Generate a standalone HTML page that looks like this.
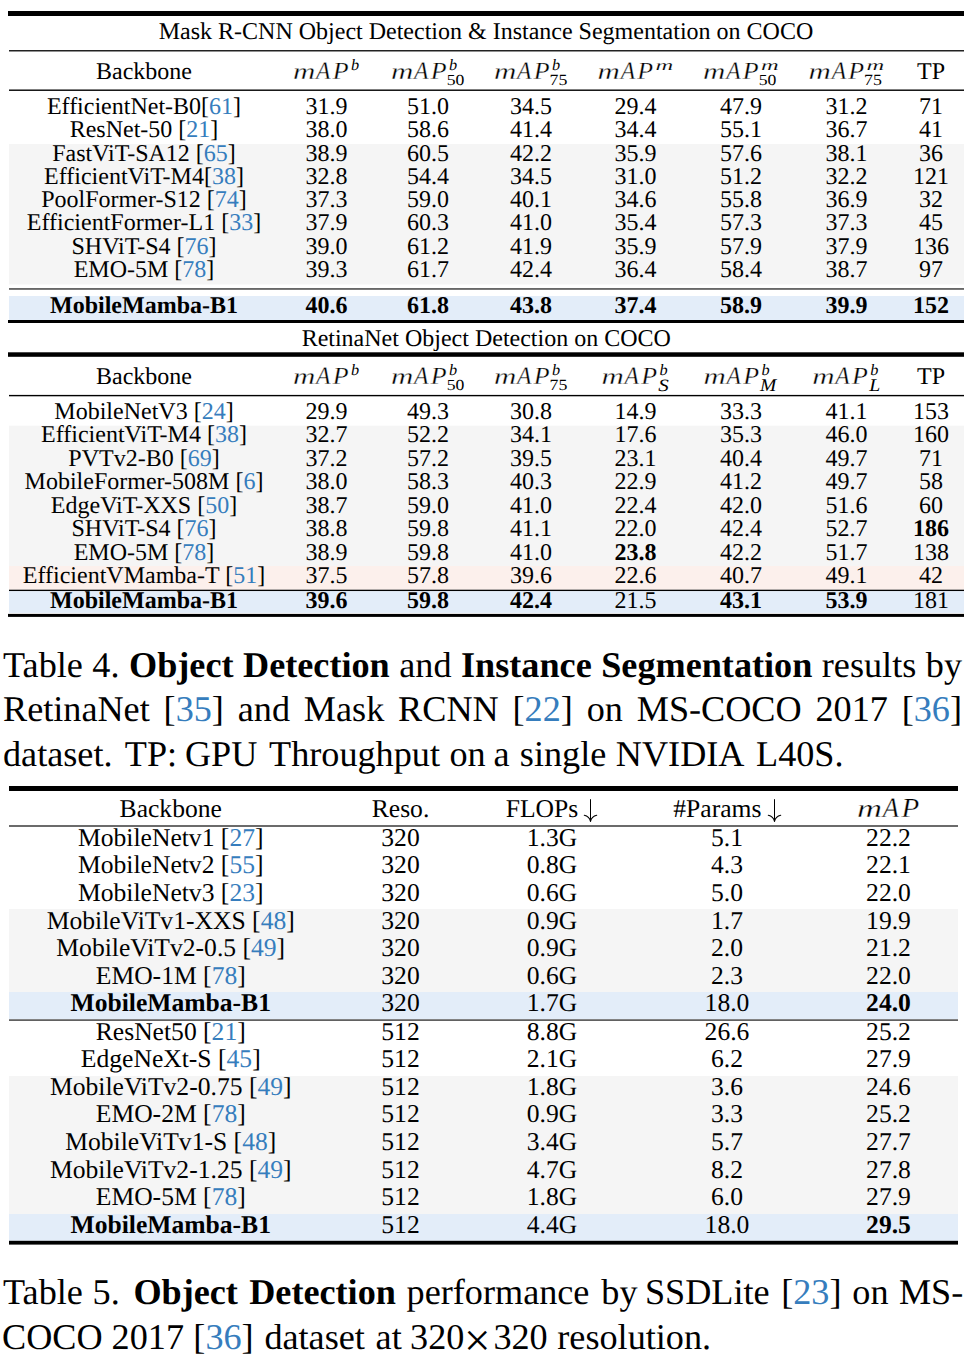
<!DOCTYPE html>
<html><head><meta charset="utf-8"><title>Table</title>
<style>
html,body{margin:0;padding:0;background:#fff;text-rendering:geometricPrecision;}
body{width:972px;height:1361px;position:relative;overflow:hidden;font-family:"Liberation Serif",serif;color:#000;}
.cap{position:absolute;font-size:36.2px;line-height:44px;white-space:nowrap;}
</style></head><body>
<svg width="972" height="1361" viewBox="0 0 972 1361" style="position:absolute;left:0;top:0" font-family="Liberation Serif" fill="#000" text-rendering="geometricPrecision"><rect x="8" y="11" width="956" height="5" fill="#000"/><text x="486" y="39.1" font-size="24.0" text-anchor="middle" xml:space="preserve">Mask R-CNN Object Detection &amp; Instance Segmentation on COCO</text><rect x="9" y="50" width="955" height="1.5" fill="#222"/><text x="144" y="79.0" font-size="24.0" text-anchor="middle" xml:space="preserve">Backbone</text><g transform="translate(293.90,79.0) scale(1.0000)"><text transform="translate(-0.84,0.00) scale(1.346,1)" font-size="22.98" font-style="italic" stroke="#fff" stroke-width="0.3">m</text><text transform="translate(22.18,0.25) scale(0.948,1)" font-size="24.92" font-style="italic" stroke="#fff" stroke-width="0.3">A</text><text transform="translate(38.80,0.00) scale(1.053,1)" font-size="24.62" font-style="italic" stroke="#fff" stroke-width="0.3">P</text><text transform="translate(57.15,-9.06) scale(1.027,1)" font-size="15.86" font-style="italic" stroke="#fff" stroke-width="0.0">b</text></g><g transform="translate(391.90,79.0) scale(1.0000)"><text transform="translate(-0.84,0.00) scale(1.346,1)" font-size="22.98" font-style="italic" stroke="#fff" stroke-width="0.3">m</text><text transform="translate(22.18,0.25) scale(0.948,1)" font-size="24.92" font-style="italic" stroke="#fff" stroke-width="0.3">A</text><text transform="translate(38.80,0.00) scale(1.053,1)" font-size="24.62" font-style="italic" stroke="#fff" stroke-width="0.3">P</text><text transform="translate(57.15,-9.06) scale(1.027,1)" font-size="15.86" font-style="italic" stroke="#fff" stroke-width="0.0">b</text><text transform="translate(54.84,6.19) scale(1.149,1)" font-size="15.37" stroke="#fff" stroke-width="0.0">50</text></g><g transform="translate(494.90,79.0) scale(1.0000)"><text transform="translate(-0.84,0.00) scale(1.346,1)" font-size="22.98" font-style="italic" stroke="#fff" stroke-width="0.3">m</text><text transform="translate(22.18,0.25) scale(0.948,1)" font-size="24.92" font-style="italic" stroke="#fff" stroke-width="0.3">A</text><text transform="translate(38.80,0.00) scale(1.053,1)" font-size="24.62" font-style="italic" stroke="#fff" stroke-width="0.3">P</text><text transform="translate(57.15,-9.06) scale(1.027,1)" font-size="15.86" font-style="italic" stroke="#fff" stroke-width="0.0">b</text><text transform="translate(54.65,6.34) scale(1.145,1)" font-size="15.61" stroke="#fff" stroke-width="0.0">75</text></g><g transform="translate(598.45,79.0) scale(1.0000)"><text transform="translate(-0.84,0.00) scale(1.346,1)" font-size="22.98" font-style="italic" stroke="#fff" stroke-width="0.3">m</text><text transform="translate(22.18,0.25) scale(0.948,1)" font-size="24.92" font-style="italic" stroke="#fff" stroke-width="0.3">A</text><text transform="translate(38.80,0.00) scale(1.053,1)" font-size="24.62" font-style="italic" stroke="#fff" stroke-width="0.3">P</text><text transform="translate(57.02,-8.70) scale(1.647,1)" font-size="14.89" font-style="italic" stroke="#fff" stroke-width="0.12">m</text></g><g transform="translate(703.95,79.0) scale(1.0000)"><text transform="translate(-0.84,0.00) scale(1.346,1)" font-size="22.98" font-style="italic" stroke="#fff" stroke-width="0.3">m</text><text transform="translate(22.18,0.25) scale(0.948,1)" font-size="24.92" font-style="italic" stroke="#fff" stroke-width="0.3">A</text><text transform="translate(38.80,0.00) scale(1.053,1)" font-size="24.62" font-style="italic" stroke="#fff" stroke-width="0.3">P</text><text transform="translate(57.02,-8.70) scale(1.647,1)" font-size="14.89" font-style="italic" stroke="#fff" stroke-width="0.12">m</text><text transform="translate(54.84,6.19) scale(1.149,1)" font-size="15.37" stroke="#fff" stroke-width="0.0">50</text></g><g transform="translate(809.45,79.0) scale(1.0000)"><text transform="translate(-0.84,0.00) scale(1.346,1)" font-size="22.98" font-style="italic" stroke="#fff" stroke-width="0.3">m</text><text transform="translate(22.18,0.25) scale(0.948,1)" font-size="24.92" font-style="italic" stroke="#fff" stroke-width="0.3">A</text><text transform="translate(38.80,0.00) scale(1.053,1)" font-size="24.62" font-style="italic" stroke="#fff" stroke-width="0.3">P</text><text transform="translate(57.02,-8.70) scale(1.647,1)" font-size="14.89" font-style="italic" stroke="#fff" stroke-width="0.12">m</text><text transform="translate(54.65,6.34) scale(1.145,1)" font-size="15.61" stroke="#fff" stroke-width="0.0">75</text></g><text x="931" y="79.0" font-size="24.0" text-anchor="middle" xml:space="preserve">TP</text><rect x="9" y="89.5" width="955" height="1.4" fill="#000"/><rect x="9" y="144" width="955" height="140.5" fill="#f5f5f5"/><text x="144" y="114.00" font-size="24.0" text-anchor="middle" xml:space="preserve">EfficientNet-B0[<tspan fill="#367dbd">61</tspan>]</text><text x="326.5" y="114.00" font-size="24.0" text-anchor="middle" xml:space="preserve">31.9</text><text x="428" y="114.00" font-size="24.0" text-anchor="middle" xml:space="preserve">51.0</text><text x="531" y="114.00" font-size="24.0" text-anchor="middle" xml:space="preserve">34.5</text><text x="635.5" y="114.00" font-size="24.0" text-anchor="middle" xml:space="preserve">29.4</text><text x="741" y="114.00" font-size="24.0" text-anchor="middle" xml:space="preserve">47.9</text><text x="846.5" y="114.00" font-size="24.0" text-anchor="middle" xml:space="preserve">31.2</text><text x="931" y="114.00" font-size="24.0" text-anchor="middle" xml:space="preserve">71</text><text x="144" y="137.26" font-size="24.0" text-anchor="middle" xml:space="preserve">ResNet-50 [<tspan fill="#367dbd">21</tspan>]</text><text x="326.5" y="137.26" font-size="24.0" text-anchor="middle" xml:space="preserve">38.0</text><text x="428" y="137.26" font-size="24.0" text-anchor="middle" xml:space="preserve">58.6</text><text x="531" y="137.26" font-size="24.0" text-anchor="middle" xml:space="preserve">41.4</text><text x="635.5" y="137.26" font-size="24.0" text-anchor="middle" xml:space="preserve">34.4</text><text x="741" y="137.26" font-size="24.0" text-anchor="middle" xml:space="preserve">55.1</text><text x="846.5" y="137.26" font-size="24.0" text-anchor="middle" xml:space="preserve">36.7</text><text x="931" y="137.26" font-size="24.0" text-anchor="middle" xml:space="preserve">41</text><text x="144" y="160.52" font-size="24.0" text-anchor="middle" xml:space="preserve">FastViT-SA12 [<tspan fill="#367dbd">65</tspan>]</text><text x="326.5" y="160.52" font-size="24.0" text-anchor="middle" xml:space="preserve">38.9</text><text x="428" y="160.52" font-size="24.0" text-anchor="middle" xml:space="preserve">60.5</text><text x="531" y="160.52" font-size="24.0" text-anchor="middle" xml:space="preserve">42.2</text><text x="635.5" y="160.52" font-size="24.0" text-anchor="middle" xml:space="preserve">35.9</text><text x="741" y="160.52" font-size="24.0" text-anchor="middle" xml:space="preserve">57.6</text><text x="846.5" y="160.52" font-size="24.0" text-anchor="middle" xml:space="preserve">38.1</text><text x="931" y="160.52" font-size="24.0" text-anchor="middle" xml:space="preserve">36</text><text x="144" y="183.78" font-size="24.0" text-anchor="middle" xml:space="preserve">EfficientViT-M4[<tspan fill="#367dbd">38</tspan>]</text><text x="326.5" y="183.78" font-size="24.0" text-anchor="middle" xml:space="preserve">32.8</text><text x="428" y="183.78" font-size="24.0" text-anchor="middle" xml:space="preserve">54.4</text><text x="531" y="183.78" font-size="24.0" text-anchor="middle" xml:space="preserve">34.5</text><text x="635.5" y="183.78" font-size="24.0" text-anchor="middle" xml:space="preserve">31.0</text><text x="741" y="183.78" font-size="24.0" text-anchor="middle" xml:space="preserve">51.2</text><text x="846.5" y="183.78" font-size="24.0" text-anchor="middle" xml:space="preserve">32.2</text><text x="931" y="183.78" font-size="24.0" text-anchor="middle" xml:space="preserve">121</text><text x="144" y="207.04" font-size="24.0" text-anchor="middle" xml:space="preserve">PoolFormer-S12 [<tspan fill="#367dbd">74</tspan>]</text><text x="326.5" y="207.04" font-size="24.0" text-anchor="middle" xml:space="preserve">37.3</text><text x="428" y="207.04" font-size="24.0" text-anchor="middle" xml:space="preserve">59.0</text><text x="531" y="207.04" font-size="24.0" text-anchor="middle" xml:space="preserve">40.1</text><text x="635.5" y="207.04" font-size="24.0" text-anchor="middle" xml:space="preserve">34.6</text><text x="741" y="207.04" font-size="24.0" text-anchor="middle" xml:space="preserve">55.8</text><text x="846.5" y="207.04" font-size="24.0" text-anchor="middle" xml:space="preserve">36.9</text><text x="931" y="207.04" font-size="24.0" text-anchor="middle" xml:space="preserve">32</text><text x="144" y="230.30" font-size="24.0" text-anchor="middle" xml:space="preserve">EfficientFormer-L1 [<tspan fill="#367dbd">33</tspan>]</text><text x="326.5" y="230.30" font-size="24.0" text-anchor="middle" xml:space="preserve">37.9</text><text x="428" y="230.30" font-size="24.0" text-anchor="middle" xml:space="preserve">60.3</text><text x="531" y="230.30" font-size="24.0" text-anchor="middle" xml:space="preserve">41.0</text><text x="635.5" y="230.30" font-size="24.0" text-anchor="middle" xml:space="preserve">35.4</text><text x="741" y="230.30" font-size="24.0" text-anchor="middle" xml:space="preserve">57.3</text><text x="846.5" y="230.30" font-size="24.0" text-anchor="middle" xml:space="preserve">37.3</text><text x="931" y="230.30" font-size="24.0" text-anchor="middle" xml:space="preserve">45</text><text x="144" y="253.56" font-size="24.0" text-anchor="middle" xml:space="preserve">SHViT-S4 [<tspan fill="#367dbd">76</tspan>]</text><text x="326.5" y="253.56" font-size="24.0" text-anchor="middle" xml:space="preserve">39.0</text><text x="428" y="253.56" font-size="24.0" text-anchor="middle" xml:space="preserve">61.2</text><text x="531" y="253.56" font-size="24.0" text-anchor="middle" xml:space="preserve">41.9</text><text x="635.5" y="253.56" font-size="24.0" text-anchor="middle" xml:space="preserve">35.9</text><text x="741" y="253.56" font-size="24.0" text-anchor="middle" xml:space="preserve">57.9</text><text x="846.5" y="253.56" font-size="24.0" text-anchor="middle" xml:space="preserve">37.9</text><text x="931" y="253.56" font-size="24.0" text-anchor="middle" xml:space="preserve">136</text><text x="144" y="276.82" font-size="24.0" text-anchor="middle" xml:space="preserve">EMO-5M [<tspan fill="#367dbd">78</tspan>]</text><text x="326.5" y="276.82" font-size="24.0" text-anchor="middle" xml:space="preserve">39.3</text><text x="428" y="276.82" font-size="24.0" text-anchor="middle" xml:space="preserve">61.7</text><text x="531" y="276.82" font-size="24.0" text-anchor="middle" xml:space="preserve">42.4</text><text x="635.5" y="276.82" font-size="24.0" text-anchor="middle" xml:space="preserve">36.4</text><text x="741" y="276.82" font-size="24.0" text-anchor="middle" xml:space="preserve">58.4</text><text x="846.5" y="276.82" font-size="24.0" text-anchor="middle" xml:space="preserve">38.7</text><text x="931" y="276.82" font-size="24.0" text-anchor="middle" xml:space="preserve">97</text><rect x="9" y="288.2" width="955" height="1.5" fill="#444"/><rect x="9" y="296" width="955" height="24" fill="#e3edf9"/><text x="144" y="313.1" font-size="24.0" text-anchor="middle" font-weight="bold" xml:space="preserve">MobileMamba-B1</text><text x="326.5" y="313.1" font-size="24.0" text-anchor="middle" font-weight="bold" xml:space="preserve">40.6</text><text x="428" y="313.1" font-size="24.0" text-anchor="middle" font-weight="bold" xml:space="preserve">61.8</text><text x="531" y="313.1" font-size="24.0" text-anchor="middle" font-weight="bold" xml:space="preserve">43.8</text><text x="635.5" y="313.1" font-size="24.0" text-anchor="middle" font-weight="bold" xml:space="preserve">37.4</text><text x="741" y="313.1" font-size="24.0" text-anchor="middle" font-weight="bold" xml:space="preserve">58.9</text><text x="846.5" y="313.1" font-size="24.0" text-anchor="middle" font-weight="bold" xml:space="preserve">39.9</text><text x="931" y="313.1" font-size="24.0" text-anchor="middle" font-weight="bold" xml:space="preserve">152</text><rect x="8" y="320" width="956" height="3" fill="#000"/><text x="486.25" y="345.8" font-size="24.0" text-anchor="middle" xml:space="preserve">RetinaNet Object Detection on COCO</text><rect x="8" y="352.3" width="956" height="4.5" fill="#000"/><text x="144" y="384.0" font-size="24.0" text-anchor="middle" xml:space="preserve">Backbone</text><g transform="translate(293.90,384.0) scale(1.0000)"><text transform="translate(-0.84,0.00) scale(1.346,1)" font-size="22.98" font-style="italic" stroke="#fff" stroke-width="0.3">m</text><text transform="translate(22.18,0.25) scale(0.948,1)" font-size="24.92" font-style="italic" stroke="#fff" stroke-width="0.3">A</text><text transform="translate(38.80,0.00) scale(1.053,1)" font-size="24.62" font-style="italic" stroke="#fff" stroke-width="0.3">P</text><text transform="translate(57.15,-9.06) scale(1.027,1)" font-size="15.86" font-style="italic" stroke="#fff" stroke-width="0.0">b</text></g><g transform="translate(391.90,384.0) scale(1.0000)"><text transform="translate(-0.84,0.00) scale(1.346,1)" font-size="22.98" font-style="italic" stroke="#fff" stroke-width="0.3">m</text><text transform="translate(22.18,0.25) scale(0.948,1)" font-size="24.92" font-style="italic" stroke="#fff" stroke-width="0.3">A</text><text transform="translate(38.80,0.00) scale(1.053,1)" font-size="24.62" font-style="italic" stroke="#fff" stroke-width="0.3">P</text><text transform="translate(57.15,-9.06) scale(1.027,1)" font-size="15.86" font-style="italic" stroke="#fff" stroke-width="0.0">b</text><text transform="translate(54.84,6.19) scale(1.149,1)" font-size="15.37" stroke="#fff" stroke-width="0.0">50</text></g><g transform="translate(494.90,384.0) scale(1.0000)"><text transform="translate(-0.84,0.00) scale(1.346,1)" font-size="22.98" font-style="italic" stroke="#fff" stroke-width="0.3">m</text><text transform="translate(22.18,0.25) scale(0.948,1)" font-size="24.92" font-style="italic" stroke="#fff" stroke-width="0.3">A</text><text transform="translate(38.80,0.00) scale(1.053,1)" font-size="24.62" font-style="italic" stroke="#fff" stroke-width="0.3">P</text><text transform="translate(57.15,-9.06) scale(1.027,1)" font-size="15.86" font-style="italic" stroke="#fff" stroke-width="0.0">b</text><text transform="translate(54.65,6.34) scale(1.145,1)" font-size="15.61" stroke="#fff" stroke-width="0.0">75</text></g><g transform="translate(602.35,384.0) scale(1.0000)"><text transform="translate(-0.84,0.00) scale(1.346,1)" font-size="22.98" font-style="italic" stroke="#fff" stroke-width="0.3">m</text><text transform="translate(22.18,0.25) scale(0.948,1)" font-size="24.92" font-style="italic" stroke="#fff" stroke-width="0.3">A</text><text transform="translate(38.80,0.00) scale(1.053,1)" font-size="24.62" font-style="italic" stroke="#fff" stroke-width="0.3">P</text><text transform="translate(57.15,-9.06) scale(1.027,1)" font-size="15.86" font-style="italic" stroke="#fff" stroke-width="0.0">b</text><text transform="translate(55.79,7.05) scale(1.217,1)" font-size="17.31" font-style="italic" stroke="#fff" stroke-width="0.0">S</text></g><g transform="translate(704.35,384.0) scale(1.0000)"><text transform="translate(-0.84,0.00) scale(1.346,1)" font-size="22.98" font-style="italic" stroke="#fff" stroke-width="0.3">m</text><text transform="translate(22.18,0.25) scale(0.948,1)" font-size="24.92" font-style="italic" stroke="#fff" stroke-width="0.3">A</text><text transform="translate(38.80,0.00) scale(1.053,1)" font-size="24.62" font-style="italic" stroke="#fff" stroke-width="0.3">P</text><text transform="translate(57.15,-9.06) scale(1.027,1)" font-size="15.86" font-style="italic" stroke="#fff" stroke-width="0.0">b</text><text transform="translate(55.70,7.40) scale(1.096,1)" font-size="17.85" font-style="italic" stroke="#fff" stroke-width="0.0">M</text></g><g transform="translate(813.15,384.0) scale(1.0000)"><text transform="translate(-0.84,0.00) scale(1.346,1)" font-size="22.98" font-style="italic" stroke="#fff" stroke-width="0.3">m</text><text transform="translate(22.18,0.25) scale(0.948,1)" font-size="24.92" font-style="italic" stroke="#fff" stroke-width="0.3">A</text><text transform="translate(38.80,0.00) scale(1.053,1)" font-size="24.62" font-style="italic" stroke="#fff" stroke-width="0.3">P</text><text transform="translate(57.15,-9.06) scale(1.027,1)" font-size="15.86" font-style="italic" stroke="#fff" stroke-width="0.0">b</text><text transform="translate(56.20,7.40) scale(1.110,1)" font-size="17.85" font-style="italic" stroke="#fff" stroke-width="0.0">L</text></g><text x="931" y="384.0" font-size="24.0" text-anchor="middle" xml:space="preserve">TP</text><rect x="9" y="394.9" width="955" height="1.4" fill="#000"/><rect x="9" y="425.7" width="955" height="140.3" fill="#f5f5f5"/><rect x="9" y="566" width="955" height="23.700000000000045" fill="#fcf0ec"/><text x="144" y="418.80" font-size="24.0" text-anchor="middle" xml:space="preserve">MobileNetV3 [<tspan fill="#367dbd">24</tspan>]</text><text x="326.5" y="418.80" font-size="24.0" text-anchor="middle" xml:space="preserve">29.9</text><text x="428" y="418.80" font-size="24.0" text-anchor="middle" xml:space="preserve">49.3</text><text x="531" y="418.80" font-size="24.0" text-anchor="middle" xml:space="preserve">30.8</text><text x="635.5" y="418.80" font-size="24.0" text-anchor="middle" xml:space="preserve">14.9</text><text x="741" y="418.80" font-size="24.0" text-anchor="middle" xml:space="preserve">33.3</text><text x="846.5" y="418.80" font-size="24.0" text-anchor="middle" xml:space="preserve">41.1</text><text x="931" y="418.80" font-size="24.0" text-anchor="middle" xml:space="preserve">153</text><text x="144" y="442.27" font-size="24.0" text-anchor="middle" xml:space="preserve">EfficientViT-M4 [<tspan fill="#367dbd">38</tspan>]</text><text x="326.5" y="442.27" font-size="24.0" text-anchor="middle" xml:space="preserve">32.7</text><text x="428" y="442.27" font-size="24.0" text-anchor="middle" xml:space="preserve">52.2</text><text x="531" y="442.27" font-size="24.0" text-anchor="middle" xml:space="preserve">34.1</text><text x="635.5" y="442.27" font-size="24.0" text-anchor="middle" xml:space="preserve">17.6</text><text x="741" y="442.27" font-size="24.0" text-anchor="middle" xml:space="preserve">35.3</text><text x="846.5" y="442.27" font-size="24.0" text-anchor="middle" xml:space="preserve">46.0</text><text x="931" y="442.27" font-size="24.0" text-anchor="middle" xml:space="preserve">160</text><text x="144" y="465.74" font-size="24.0" text-anchor="middle" xml:space="preserve">PVTv2-B0 [<tspan fill="#367dbd">69</tspan>]</text><text x="326.5" y="465.74" font-size="24.0" text-anchor="middle" xml:space="preserve">37.2</text><text x="428" y="465.74" font-size="24.0" text-anchor="middle" xml:space="preserve">57.2</text><text x="531" y="465.74" font-size="24.0" text-anchor="middle" xml:space="preserve">39.5</text><text x="635.5" y="465.74" font-size="24.0" text-anchor="middle" xml:space="preserve">23.1</text><text x="741" y="465.74" font-size="24.0" text-anchor="middle" xml:space="preserve">40.4</text><text x="846.5" y="465.74" font-size="24.0" text-anchor="middle" xml:space="preserve">49.7</text><text x="931" y="465.74" font-size="24.0" text-anchor="middle" xml:space="preserve">71</text><text x="144" y="489.21" font-size="24.0" text-anchor="middle" xml:space="preserve">MobileFormer-508M [<tspan fill="#367dbd">6</tspan>]</text><text x="326.5" y="489.21" font-size="24.0" text-anchor="middle" xml:space="preserve">38.0</text><text x="428" y="489.21" font-size="24.0" text-anchor="middle" xml:space="preserve">58.3</text><text x="531" y="489.21" font-size="24.0" text-anchor="middle" xml:space="preserve">40.3</text><text x="635.5" y="489.21" font-size="24.0" text-anchor="middle" xml:space="preserve">22.9</text><text x="741" y="489.21" font-size="24.0" text-anchor="middle" xml:space="preserve">41.2</text><text x="846.5" y="489.21" font-size="24.0" text-anchor="middle" xml:space="preserve">49.7</text><text x="931" y="489.21" font-size="24.0" text-anchor="middle" xml:space="preserve">58</text><text x="144" y="512.68" font-size="24.0" text-anchor="middle" xml:space="preserve">EdgeViT-XXS [<tspan fill="#367dbd">50</tspan>]</text><text x="326.5" y="512.68" font-size="24.0" text-anchor="middle" xml:space="preserve">38.7</text><text x="428" y="512.68" font-size="24.0" text-anchor="middle" xml:space="preserve">59.0</text><text x="531" y="512.68" font-size="24.0" text-anchor="middle" xml:space="preserve">41.0</text><text x="635.5" y="512.68" font-size="24.0" text-anchor="middle" xml:space="preserve">22.4</text><text x="741" y="512.68" font-size="24.0" text-anchor="middle" xml:space="preserve">42.0</text><text x="846.5" y="512.68" font-size="24.0" text-anchor="middle" xml:space="preserve">51.6</text><text x="931" y="512.68" font-size="24.0" text-anchor="middle" xml:space="preserve">60</text><text x="144" y="536.15" font-size="24.0" text-anchor="middle" xml:space="preserve">SHViT-S4 [<tspan fill="#367dbd">76</tspan>]</text><text x="326.5" y="536.15" font-size="24.0" text-anchor="middle" xml:space="preserve">38.8</text><text x="428" y="536.15" font-size="24.0" text-anchor="middle" xml:space="preserve">59.8</text><text x="531" y="536.15" font-size="24.0" text-anchor="middle" xml:space="preserve">41.1</text><text x="635.5" y="536.15" font-size="24.0" text-anchor="middle" xml:space="preserve">22.0</text><text x="741" y="536.15" font-size="24.0" text-anchor="middle" xml:space="preserve">42.4</text><text x="846.5" y="536.15" font-size="24.0" text-anchor="middle" xml:space="preserve">52.7</text><text x="931" y="536.15" font-size="24.0" text-anchor="middle" font-weight="bold" xml:space="preserve">186</text><text x="144" y="559.62" font-size="24.0" text-anchor="middle" xml:space="preserve">EMO-5M [<tspan fill="#367dbd">78</tspan>]</text><text x="326.5" y="559.62" font-size="24.0" text-anchor="middle" xml:space="preserve">38.9</text><text x="428" y="559.62" font-size="24.0" text-anchor="middle" xml:space="preserve">59.8</text><text x="531" y="559.62" font-size="24.0" text-anchor="middle" xml:space="preserve">41.0</text><text x="635.5" y="559.62" font-size="24.0" text-anchor="middle" font-weight="bold" xml:space="preserve">23.8</text><text x="741" y="559.62" font-size="24.0" text-anchor="middle" xml:space="preserve">42.2</text><text x="846.5" y="559.62" font-size="24.0" text-anchor="middle" xml:space="preserve">51.7</text><text x="931" y="559.62" font-size="24.0" text-anchor="middle" xml:space="preserve">138</text><text x="144" y="583.09" font-size="24.0" text-anchor="middle" xml:space="preserve">EfficientVMamba-T [<tspan fill="#367dbd">51</tspan>]</text><text x="326.5" y="583.09" font-size="24.0" text-anchor="middle" xml:space="preserve">37.5</text><text x="428" y="583.09" font-size="24.0" text-anchor="middle" xml:space="preserve">57.8</text><text x="531" y="583.09" font-size="24.0" text-anchor="middle" xml:space="preserve">39.6</text><text x="635.5" y="583.09" font-size="24.0" text-anchor="middle" xml:space="preserve">22.6</text><text x="741" y="583.09" font-size="24.0" text-anchor="middle" xml:space="preserve">40.7</text><text x="846.5" y="583.09" font-size="24.0" text-anchor="middle" xml:space="preserve">49.1</text><text x="931" y="583.09" font-size="24.0" text-anchor="middle" xml:space="preserve">42</text><rect x="9" y="589.7" width="955" height="1.5" fill="#000"/><rect x="9" y="591.2" width="955" height="21.699999999999932" fill="#e3edf9"/><text x="144" y="607.9" font-size="24.0" text-anchor="middle" font-weight="bold" xml:space="preserve">MobileMamba-B1</text><text x="326.5" y="607.9" font-size="24.0" text-anchor="middle" font-weight="bold" xml:space="preserve">39.6</text><text x="428" y="607.9" font-size="24.0" text-anchor="middle" font-weight="bold" xml:space="preserve">59.8</text><text x="531" y="607.9" font-size="24.0" text-anchor="middle" font-weight="bold" xml:space="preserve">42.4</text><text x="635.5" y="607.9" font-size="24.0" text-anchor="middle" xml:space="preserve">21.5</text><text x="741" y="607.9" font-size="24.0" text-anchor="middle" font-weight="bold" xml:space="preserve">43.1</text><text x="846.5" y="607.9" font-size="24.0" text-anchor="middle" font-weight="bold" xml:space="preserve">53.9</text><text x="931" y="607.9" font-size="24.0" text-anchor="middle" xml:space="preserve">181</text><rect x="8" y="613.9" width="956" height="3.0" fill="#000"/><rect x="9" y="786" width="949" height="5" fill="#000"/><text x="170.75" y="816.8" font-size="25.6" text-anchor="middle" xml:space="preserve">Backbone</text><text x="400.5" y="816.8" font-size="25.6" text-anchor="middle" xml:space="preserve">Reso.</text><text x="505.7" y="816.8" font-size="25.6" text-anchor="start" xml:space="preserve">FLOPs</text><path d="M590.5,799.2 L590.5,819.9" stroke="#000" stroke-width="1.05" fill="none"/><path d="M584.3,815.1999999999999 Q589.3,816.1999999999999 590.5,821.4 M596.7,815.1999999999999 Q591.7,816.1999999999999 590.5,821.4" stroke="#000" stroke-width="1.1" fill="none" stroke-linecap="round"/><text x="673.3" y="816.8" font-size="25.6" text-anchor="start" xml:space="preserve">#Params</text><path d="M774.5,799.2 L774.5,819.9" stroke="#000" stroke-width="1.05" fill="none"/><path d="M768.3,815.1999999999999 Q773.3,816.1999999999999 774.5,821.4 M780.7,815.1999999999999 Q775.7,816.1999999999999 774.5,821.4" stroke="#000" stroke-width="1.1" fill="none" stroke-linecap="round"/><g transform="translate(857.98,817.2) scale(1.1200)"><text transform="translate(-0.84,0.00) scale(1.346,1)" font-size="22.98" font-style="italic" stroke="#fff" stroke-width="0.3">m</text><text transform="translate(22.18,0.25) scale(0.948,1)" font-size="24.92" font-style="italic" stroke="#fff" stroke-width="0.3">A</text><text transform="translate(38.80,0.00) scale(1.053,1)" font-size="24.62" font-style="italic" stroke="#fff" stroke-width="0.3">P</text></g><rect x="9" y="825" width="949" height="2" fill="#6b6b6b"/><rect x="9" y="909" width="949" height="83" fill="#f5f5f5"/><rect x="9" y="992" width="949" height="27.200000000000045" fill="#e3edf9"/><text x="170.75" y="845.90" font-size="25.6" text-anchor="middle" xml:space="preserve">MobileNetv1 [<tspan fill="#367dbd">27</tspan>]</text><text x="400.5" y="845.90" font-size="25.6" text-anchor="middle" xml:space="preserve">320</text><text x="552" y="845.90" font-size="25.6" text-anchor="middle" xml:space="preserve">1.3G</text><text x="727" y="845.90" font-size="25.6" text-anchor="middle" xml:space="preserve">5.1</text><text x="888.5" y="845.90" font-size="25.6" text-anchor="middle" xml:space="preserve">22.2</text><text x="170.75" y="873.45" font-size="25.6" text-anchor="middle" xml:space="preserve">MobileNetv2 [<tspan fill="#367dbd">55</tspan>]</text><text x="400.5" y="873.45" font-size="25.6" text-anchor="middle" xml:space="preserve">320</text><text x="552" y="873.45" font-size="25.6" text-anchor="middle" xml:space="preserve">0.8G</text><text x="727" y="873.45" font-size="25.6" text-anchor="middle" xml:space="preserve">4.3</text><text x="888.5" y="873.45" font-size="25.6" text-anchor="middle" xml:space="preserve">22.1</text><text x="170.75" y="901.00" font-size="25.6" text-anchor="middle" xml:space="preserve">MobileNetv3 [<tspan fill="#367dbd">23</tspan>]</text><text x="400.5" y="901.00" font-size="25.6" text-anchor="middle" xml:space="preserve">320</text><text x="552" y="901.00" font-size="25.6" text-anchor="middle" xml:space="preserve">0.6G</text><text x="727" y="901.00" font-size="25.6" text-anchor="middle" xml:space="preserve">5.0</text><text x="888.5" y="901.00" font-size="25.6" text-anchor="middle" xml:space="preserve">22.0</text><text x="170.75" y="928.55" font-size="25.6" text-anchor="middle" xml:space="preserve">MobileViTv1-XXS [<tspan fill="#367dbd">48</tspan>]</text><text x="400.5" y="928.55" font-size="25.6" text-anchor="middle" xml:space="preserve">320</text><text x="552" y="928.55" font-size="25.6" text-anchor="middle" xml:space="preserve">0.9G</text><text x="727" y="928.55" font-size="25.6" text-anchor="middle" xml:space="preserve">1.7</text><text x="888.5" y="928.55" font-size="25.6" text-anchor="middle" xml:space="preserve">19.9</text><text x="170.75" y="956.10" font-size="25.6" text-anchor="middle" xml:space="preserve">MobileViTv2-0.5 [<tspan fill="#367dbd">49</tspan>]</text><text x="400.5" y="956.10" font-size="25.6" text-anchor="middle" xml:space="preserve">320</text><text x="552" y="956.10" font-size="25.6" text-anchor="middle" xml:space="preserve">0.9G</text><text x="727" y="956.10" font-size="25.6" text-anchor="middle" xml:space="preserve">2.0</text><text x="888.5" y="956.10" font-size="25.6" text-anchor="middle" xml:space="preserve">21.2</text><text x="170.75" y="983.65" font-size="25.6" text-anchor="middle" xml:space="preserve">EMO-1M [<tspan fill="#367dbd">78</tspan>]</text><text x="400.5" y="983.65" font-size="25.6" text-anchor="middle" xml:space="preserve">320</text><text x="552" y="983.65" font-size="25.6" text-anchor="middle" xml:space="preserve">0.6G</text><text x="727" y="983.65" font-size="25.6" text-anchor="middle" xml:space="preserve">2.3</text><text x="888.5" y="983.65" font-size="25.6" text-anchor="middle" xml:space="preserve">22.0</text><text x="170.75" y="1011.20" font-size="25.6" text-anchor="middle" font-weight="bold" xml:space="preserve">MobileMamba-B1</text><text x="400.5" y="1011.20" font-size="25.6" text-anchor="middle" xml:space="preserve">320</text><text x="552" y="1011.20" font-size="25.6" text-anchor="middle" xml:space="preserve">1.7G</text><text x="727" y="1011.20" font-size="25.6" text-anchor="middle" xml:space="preserve">18.0</text><text x="888.5" y="1011.20" font-size="25.6" text-anchor="middle" font-weight="bold" xml:space="preserve">24.0</text><rect x="9" y="1019.3" width="949" height="1.6" fill="#505050"/><rect x="9" y="1076" width="949" height="138" fill="#f5f5f5"/><rect x="9" y="1214" width="949" height="26.799999999999955" fill="#e3edf9"/><text x="170.75" y="1039.70" font-size="25.6" text-anchor="middle" xml:space="preserve">ResNet50 [<tspan fill="#367dbd">21</tspan>]</text><text x="400.5" y="1039.70" font-size="25.6" text-anchor="middle" xml:space="preserve">512</text><text x="552" y="1039.70" font-size="25.6" text-anchor="middle" xml:space="preserve">8.8G</text><text x="727" y="1039.70" font-size="25.6" text-anchor="middle" xml:space="preserve">26.6</text><text x="888.5" y="1039.70" font-size="25.6" text-anchor="middle" xml:space="preserve">25.2</text><text x="170.75" y="1067.27" font-size="25.6" text-anchor="middle" xml:space="preserve">EdgeNeXt-S [<tspan fill="#367dbd">45</tspan>]</text><text x="400.5" y="1067.27" font-size="25.6" text-anchor="middle" xml:space="preserve">512</text><text x="552" y="1067.27" font-size="25.6" text-anchor="middle" xml:space="preserve">2.1G</text><text x="727" y="1067.27" font-size="25.6" text-anchor="middle" xml:space="preserve">6.2</text><text x="888.5" y="1067.27" font-size="25.6" text-anchor="middle" xml:space="preserve">27.9</text><text x="170.75" y="1094.84" font-size="25.6" text-anchor="middle" xml:space="preserve">MobileViTv2-0.75 [<tspan fill="#367dbd">49</tspan>]</text><text x="400.5" y="1094.84" font-size="25.6" text-anchor="middle" xml:space="preserve">512</text><text x="552" y="1094.84" font-size="25.6" text-anchor="middle" xml:space="preserve">1.8G</text><text x="727" y="1094.84" font-size="25.6" text-anchor="middle" xml:space="preserve">3.6</text><text x="888.5" y="1094.84" font-size="25.6" text-anchor="middle" xml:space="preserve">24.6</text><text x="170.75" y="1122.41" font-size="25.6" text-anchor="middle" xml:space="preserve">EMO-2M [<tspan fill="#367dbd">78</tspan>]</text><text x="400.5" y="1122.41" font-size="25.6" text-anchor="middle" xml:space="preserve">512</text><text x="552" y="1122.41" font-size="25.6" text-anchor="middle" xml:space="preserve">0.9G</text><text x="727" y="1122.41" font-size="25.6" text-anchor="middle" xml:space="preserve">3.3</text><text x="888.5" y="1122.41" font-size="25.6" text-anchor="middle" xml:space="preserve">25.2</text><text x="170.75" y="1149.98" font-size="25.6" text-anchor="middle" xml:space="preserve">MobileViTv1-S [<tspan fill="#367dbd">48</tspan>]</text><text x="400.5" y="1149.98" font-size="25.6" text-anchor="middle" xml:space="preserve">512</text><text x="552" y="1149.98" font-size="25.6" text-anchor="middle" xml:space="preserve">3.4G</text><text x="727" y="1149.98" font-size="25.6" text-anchor="middle" xml:space="preserve">5.7</text><text x="888.5" y="1149.98" font-size="25.6" text-anchor="middle" xml:space="preserve">27.7</text><text x="170.75" y="1177.55" font-size="25.6" text-anchor="middle" xml:space="preserve">MobileViTv2-1.25 [<tspan fill="#367dbd">49</tspan>]</text><text x="400.5" y="1177.55" font-size="25.6" text-anchor="middle" xml:space="preserve">512</text><text x="552" y="1177.55" font-size="25.6" text-anchor="middle" xml:space="preserve">4.7G</text><text x="727" y="1177.55" font-size="25.6" text-anchor="middle" xml:space="preserve">8.2</text><text x="888.5" y="1177.55" font-size="25.6" text-anchor="middle" xml:space="preserve">27.8</text><text x="170.75" y="1205.12" font-size="25.6" text-anchor="middle" xml:space="preserve">EMO-5M [<tspan fill="#367dbd">78</tspan>]</text><text x="400.5" y="1205.12" font-size="25.6" text-anchor="middle" xml:space="preserve">512</text><text x="552" y="1205.12" font-size="25.6" text-anchor="middle" xml:space="preserve">1.8G</text><text x="727" y="1205.12" font-size="25.6" text-anchor="middle" xml:space="preserve">6.0</text><text x="888.5" y="1205.12" font-size="25.6" text-anchor="middle" xml:space="preserve">27.9</text><text x="170.75" y="1232.69" font-size="25.6" text-anchor="middle" font-weight="bold" xml:space="preserve">MobileMamba-B1</text><text x="400.5" y="1232.69" font-size="25.6" text-anchor="middle" xml:space="preserve">512</text><text x="552" y="1232.69" font-size="25.6" text-anchor="middle" xml:space="preserve">4.4G</text><text x="727" y="1232.69" font-size="25.6" text-anchor="middle" xml:space="preserve">18.0</text><text x="888.5" y="1232.69" font-size="25.6" text-anchor="middle" font-weight="bold" xml:space="preserve">29.5</text><rect x="9" y="1240.8" width="949" height="3.8" fill="#000"/></svg>
<div class="cap" style="top:642.80px;left:3px;width:959px;text-align:justify;text-align-last:justify;">Table 4. <b>Object Detection</b> and <b>Instance Segmentation</b> results by</div><div class="cap" style="top:686.90px;left:3px;width:959px;text-align:justify;text-align-last:justify;">RetinaNet [<span style="color:#367dbd">35</span>] and Mask RCNN [<span style="color:#367dbd">22</span>] on MS-COCO 2017 [<span style="color:#367dbd">36</span>]</div><div class="cap" style="top:731.90px;left:3px;width:959px;text-align:left;">dataset. <span style="position:relative;left:3.9px">TP:</span> <span style="position:relative;left:2.7px">GPU</span> <span style="position:relative;left:6px">Throughput</span> <span style="position:relative;left:6.5px">on</span> <span style="position:relative;left:5.2px">a</span> <span style="position:relative;left:6.5px">single</span> <span style="position:relative;left:7px">NVIDIA</span> <span style="position:relative;left:11.5px">L40S.</span></div><div class="cap" style="top:1269.70px;left:3px;width:959px;text-align:justify;text-align-last:justify;">Table <span style="position:relative;left:-1px">5.</span> <span style="position:relative;left:2px"><b>Object</b></span> <span style="position:relative;left:2.6px"><b>Detection</b></span> <span style="position:relative;left:2.6px">performance</span> <span style="position:relative;left:3.8px">by</span> <span style="position:relative;left:0.5px">SSDLite</span> <span style="position:relative;left:1.4px">[<span style="color:#367dbd">23</span>]</span> <span style="position:relative;left:1.5px">on</span> <span style="position:relative;left:1.2px">MS-</span></div><div class="cap" style="top:1315.00px;left:3px;width:959px;text-align:left;"><span style="position:relative;left:-1px">COCO</span> <span style="position:relative;left:-1px">2017</span> <span style="position:relative;left:-0.7px">[<span style="color:#367dbd">36</span>]</span> <span style="position:relative;left:1px">dataset</span> <span style="position:relative;left:2.7px">at</span> <span style="position:relative;left:2px">320</span> <span style="position:relative;left:-8.5px"><span style="margin:0 5px 0 4px;display:inline-block;transform:scale(1.3);position:relative;top:3px">&#215;</span></span> <span style="position:relative;left:-16.5px">320</span> <span style="position:relative;left:-15.9px">resolution.</span></div>
</body></html>
